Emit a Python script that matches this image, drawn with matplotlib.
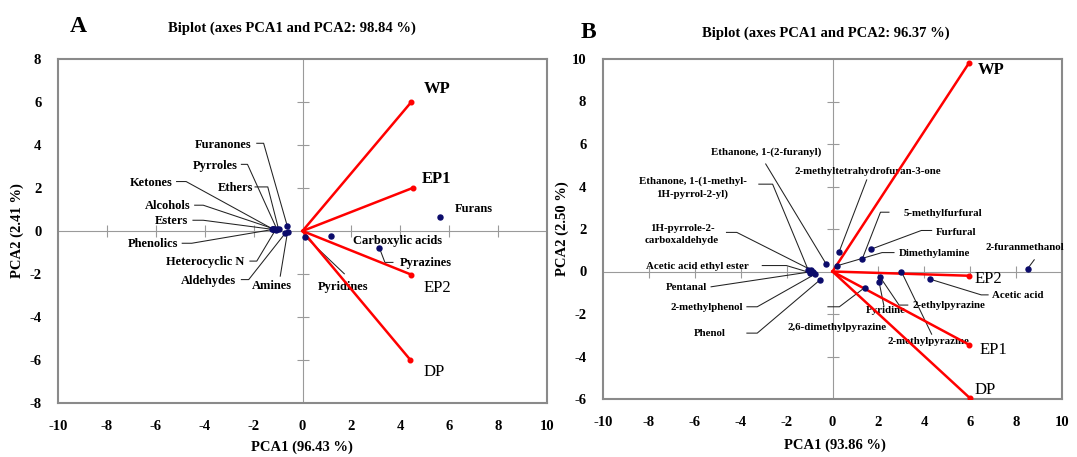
import numpy as np
import matplotlib
matplotlib.use("Agg")
import matplotlib.pyplot as plt

plt.rcParams['font.family'] = ['Liberation Serif', 'DejaVu Serif']
plt.rcParams['font.weight'] = 'bold'
plt.rcParams['axes.unicode_minus'] = False

# ---------------- panel A data ----------------
a_vec_names = ['WP', 'EP1', 'EP2', 'DP']
a_vec_x = [4.45, 4.5, 4.45, 4.4]
a_vec_y = [6.0, 2.0, -2.03, -5.98]

a_names = ['Furanones', 'Pyrroles', 'Ketones', 'Ethers', 'Alcohols', 'Esters',
           'Phenolics', 'Heterocyclic N', 'Aldehydes', 'Amines', 'Pyridines',
           'Carboxylic acids', 'Pyrazines', 'Furans']
a_x = [-0.62, -1.05, -1.2, -0.98, -1.15, -1.25, -1.22, -1.1, -0.71, -0.61,
       0.12, 1.17, 3.14, 5.63]
a_y = [0.22, 0.09, 0.08, 0.09, 0.09, 0.08, 0.07, 0.06, -0.11, -0.03,
       -0.27, -0.25, -0.77, 0.64]

# ---------------- panel B data ----------------
b_vec_names = ['WP', 'EP2', 'EP1', 'DP']
b_vec_x = [5.94, 5.96, 5.96, 6.0]
b_vec_y = [9.8, -0.2, -3.45, -5.97]

b_names = ['2-furanmethanol', 'Acetic acid', '2-ethylpyrazine', 'Pyridine',
           '2-methylpyrazine', '2,6-dimethylpyrazine', 'Dimethylamine',
           'Furfural', '5-methylfurfural', '2-methyltetrahydrofuran-3-one',
           'Ethanone, 1-(2-furanyl)',
           'Ethanone, 1-(1-methyl-\n1H-pyrrol-2-yl)',
           '1H-pyrrole-2-\ncarboxaldehyde', 'Acetic acid ethyl ester',
           'Pentanal', '2-methylphenol', 'Phenol']
b_x = [8.5, 4.25, 2.06, 2.03, 3.0, 1.4, 0.2, 1.68, 1.3, 0.29, -0.28,
       -1.05, -0.94, -0.99, -0.87, -0.77, -0.56]
b_y = [0.13, -0.36, -0.24, -0.49, 0.0, -0.76, 0.27, 1.05, 0.6, 0.93, 0.36,
       0.05, 0.08, -0.05, 0.0, -0.13, -0.41]

# label placement: text x, text y, alignment, leader knee points (text side first)
a_labels = {
    'Furanones': (-2.08, 4.0, 'right', [(-1.87, 4.08), (-1.59, 4.08)]),
    'Pyrroles': (-2.65, 3.03, 'right', [(-2.5, 3.1), (-2.25, 3.1)]),
    'Ketones': (-5.3, 2.23, 'right', [(-5.15, 2.3), (-4.76, 2.3)]),
    'Ethers': (-2.01, 2.0, 'right', [(-1.94, 2.05), (-1.42, 2.05)]),
    'Alcohols': (-4.6, 1.16, 'right', [(-4.41, 1.2), (-4.06, 1.2)]),
    'Esters': (-4.69, 0.45, 'right', [(-4.48, 0.5), (-4.06, 0.5)]),
    'Phenolics': (-5.09, -0.62, 'right', [(-4.92, -0.57), (-4.53, -0.57)]),
    'Heterocyclic N': (-2.38, -1.42, 'right', [(-2.15, -1.4), (-1.87, -1.4)]),
    'Aldehydes': (-2.73, -2.34, 'right', [(-2.5, -2.26), (-2.2, -2.26)]),
    'Amines': (-1.25, -2.56, 'center', [(-0.91, -2.1)]),
    'Pyridines': (1.67, -2.62, 'center', [(1.71, -1.99)]),
    'Carboxylic acids': (3.9, -0.45, 'center', None),
    'Pyrazines': (5.05, -1.5, 'center', [(3.7, -1.46), (3.37, -1.46)]),
    'Furans': (7.0, 1.03, 'center', None),
}
a_vec_labels = {'WP': (5.5, 6.6, 'bold'), 'EP1': (5.5, 2.44, 'bold'),
                'EP2': (5.5, -2.65, 'normal'), 'DP': (5.4, -6.58, 'normal')}

b_labels = {
    '2-furanmethanol': (8.4, 1.15, 'center', [(8.79, 0.55)]),
    'Acetic acid': (6.93, -1.15, 'left', [(6.78, -1.1), (6.48, -1.1)]),
    '2-ethylpyrazine': (3.5, -1.58, 'left', [(3.28, -1.58), (2.9, -1.58)]),
    'Pyridine': (2.3, -1.85, 'center', [(2.24, -1.62)]),
    '2-methylpyrazine': (4.17, -3.3, 'center', [(4.32, -2.95)]),
    '2,6-dimethylpyrazine': (0.22, -2.62, 'center', [(-0.2, -1.66), (0.3, -1.66)]),
    'Dimethylamine': (2.88, 0.83, 'left', [(2.68, 0.89), (2.16, 0.89)]),
    'Furfural': (4.52, 1.85, 'left', [(4.32, 1.93), (3.87, 1.93)]),
    '5-methylfurfural': (3.08, 2.75, 'left', [(2.46, 2.79), (2.09, 2.79)]),
    '2-methyltetrahydrofuran-3-one': (1.52, 4.7, 'center', [(1.49, 4.31)]),
    'Ethanone, 1-(2-furanyl)': (-2.91, 5.6, 'center', [(-2.91, 5.06)]),
    'Ethanone, 1-(1-methyl-\n1H-pyrrol-2-yl)': (-6.1, 3.96, 'center',
                                               [(-3.21, 4.11), (-2.61, 4.11)]),
    '1H-pyrrole-2-\ncarboxaldehyde': (-6.56, 1.74, 'center',
                                      [(-4.62, 1.84), (-4.17, 1.84)]),
    'Acetic acid ethyl ester': (-3.65, 0.24, 'right', [(-3.06, 0.28), (-2.01, 0.28)]),
    'Pentanal': (-5.47, -0.74, 'right', [(-5.29, -0.72)]),
    '2-methylphenol': (-3.92, -1.68, 'right', [(-3.73, -1.66), (-3.28, -1.66)]),
    'Phenol': (-4.65, -2.94, 'right', [(-3.73, -2.9), (-3.28, -2.9)]),
}
b_vec_labels = {'WP': (6.9, 9.5, 'bold'), 'EP2': (6.78, -0.35, 'normal'),
                'EP1': (7.0, -3.69, 'normal'), 'DP': (6.63, -5.57, 'normal')}

navy = '#0b0b6b'
grey = '#8a8a8a'


def biplot(ax, xlim, ylim, vx, vy, vnames, vlab, px, py, pnames, plab, fs):
    ax.set_xlim(xlim)
    ax.set_ylim(ylim)
    for s in ax.spines.values():
        s.set_color(grey)
        s.set_linewidth(1.5)
    ax.axhline(0, color='#9a9a9a', lw=0.8, zorder=1)
    ax.axvline(0, color='#9a9a9a', lw=0.8, zorder=1)
    xt = np.arange(xlim[0], xlim[1] + 1, 2)
    yt = np.arange(ylim[0], ylim[1] + 1, 2)
    ax.set_xticks(xt)
    ax.set_yticks(yt)
    ax.tick_params(length=0, labelsize=10.5, pad=12)
    xin = xt[(xt != 0) & (xt > xlim[0]) & (xt < xlim[1])]
    ax.plot(xin, np.zeros(len(xin)), ls='none',
            marker='|', ms=8, color='#9a9a9a', mew=0.8)
    yin = yt[(yt != 0) & (yt > ylim[0]) & (yt < ylim[1])]
    ax.plot(np.zeros(len(yin)), yin, ls='none', marker='_', ms=8, color='#9a9a9a', mew=0.8)

    # leaders
    for n, x, y in zip(pnames, px, py):
        tx, ty, ha, knee = plab[n]
        if knee:
            lx = [k[0] for k in knee] + [x]
            ly = [k[1] for k in knee] + [y]
            ax.plot(lx, ly, color='#222222', lw=0.75, zorder=2)
        ax.text(tx, ty, n, ha=ha, va='center', fontsize=fs, linespacing=1.5)
    ax.scatter(px, py, s=13, color=navy, zorder=4)

    for n, x, y in zip(vnames, vx, vy):
        ax.plot([0, x], [0, y], color='red', lw=1.8, zorder=3)
        tx, ty, w = vlab[n]
        ax.text(tx, ty, n, ha='center', va='center', fontsize=12, fontweight=w)
    ax.scatter(vx, vy, s=11, color='red', zorder=4)


fig = plt.figure(figsize=(10.77, 4.57), dpi=100)
W, H = 1077, 457
axA = fig.add_axes([58 / W, 1 - 403 / H, (547 - 58) / W, (403 - 59) / H])
axB = fig.add_axes([603 / W, 1 - 399 / H, (1062 - 603) / W, (399 - 59) / H])

biplot(axA, (-10, 10), (-8, 8), a_vec_x, a_vec_y, a_vec_names, a_vec_labels,
       a_x, a_y, a_names, a_labels, 9)
biplot(axB, (-10, 10), (-6, 10), b_vec_x, b_vec_y, b_vec_names, b_vec_labels,
       b_x, b_y, b_names, b_labels, 7.8)

fig.text(78 / W, 1 - 27 / H, 'A', fontsize=17, ha='center', va='center')
fig.text(292 / W, 1 - 28 / H, 'Biplot (axes PCA1 and PCA2: 98.84 %)', fontsize=10.5,
         ha='center', va='center')
fig.text(588 / W, 1 - 33 / H, 'B', fontsize=17, ha='center', va='center')
fig.text(826 / W, 1 - 33 / H, 'Biplot (axes PCA1 and PCA2: 96.37 %)', fontsize=10.5,
         ha='center', va='center')

fig.text(302 / W, 1 - 447 / H, 'PCA1 (96.43 %)', fontsize=10.5, ha='center', va='center')
fig.text(17 / W, 1 - 231 / H, 'PCA2 (2.41 %)', fontsize=10.5, ha='center', va='center',
         rotation=90)
fig.text(835 / W, 1 - 445 / H, 'PCA1 (93.86 %)', fontsize=10.5, ha='center', va='center')
fig.text(562 / W, 1 - 229 / H, 'PCA2 (2.50 %)', fontsize=10.5, ha='center', va='center',
         rotation=90)

fig.savefig('out.png', dpi=100)
